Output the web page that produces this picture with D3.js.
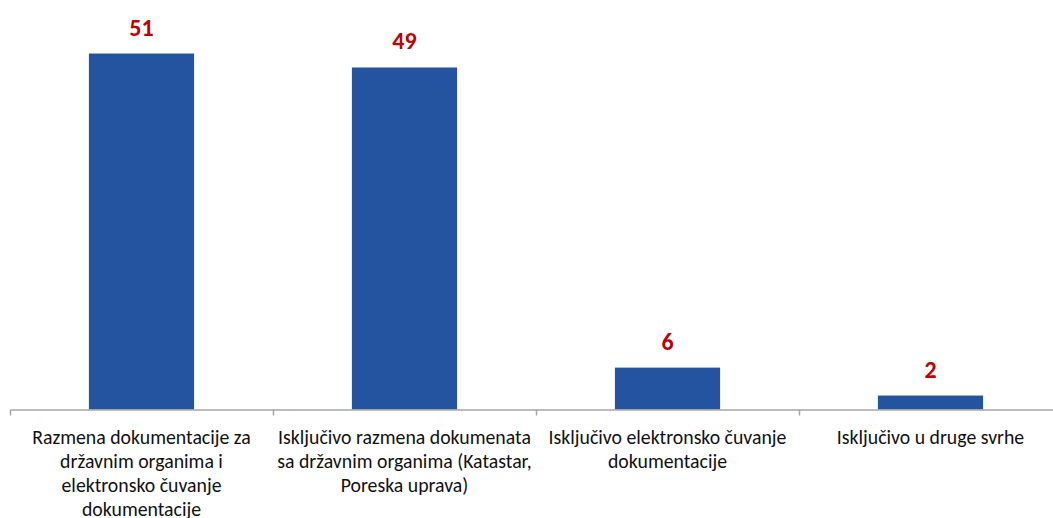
<!DOCTYPE html>
<html>
    <head>
        <script src="https://d3js.org/d3.v7.min.js"></script>
        <style>
            body { margin: 0; background: #fff; }
            .tickGrid line, .tickGrid .domain { stroke: #a6a6a6; stroke-width: 1.5; }
            .catLabel { font-family: Carlito, Calibri, Lato, sans-serif; font-size: 19.8px; fill: #111; }
            .valLabel { font-family: Carlito, Calibri, Lato, sans-serif; font-size: 24px; font-weight: bold; fill: #c00000; }
        </style>
    </head>
    <body>
        <svg id="chart" width="1053" height="518"></svg>
        <script>
            // categories (split into lines as in the picture) and values
            const categories = [
                ["Razmena dokumentacije za", "državnim organima i", "elektronsko čuvanje", "dokumentacije"],
                ["Isključivo razmena dokumenata", "sa državnim organima (Katastar,", "Poreska uprava)"],
                ["Isključivo elektronsko čuvanje", "dokumentacije"],
                ["Isključivo u druge svrhe"]
            ];
            const values = [51, 49, 6, 2];

            const svg = d3.select("#chart");
            const margins = { left: 10, right: -9, baseline: 409.5 };
            const plotRight = 1053 - margins.right;

            // Scales
            let xScale = d3.scaleBand()
                           .domain(d3.range(values.length))
                           .range([margins.left, plotRight])
                           .paddingInner(0.6)
                           .paddingOuter(0.3);

            let gridScale = d3.scaleLinear()
                              .domain([0, values.length])
                              .range([margins.left, plotRight]);

            let yScale = d3.scaleLinear()
                           .domain([0, 60])
                           .range([margins.baseline, margins.baseline - 60 * 6.98]);

            // Bars
            svg.append("g")
               .selectAll("rect")
               .data(values)
               .join("rect")
               .attr("x", (d, i) => xScale(i))
               .attr("width", xScale.bandwidth())
               .attr("y", d => yScale(d))
               .attr("height", d => yScale(0) - yScale(d))
               .attr("fill", "#2453a0");

            // Category axis with ticks between categories
            let bottomAxis = d3.axisBottom(gridScale)
                               .tickValues(d3.range(values.length + 1))
                               .tickSize(6)
                               .tickSizeOuter(0)
                               .tickFormat("");
            svg.append("g")
               .attr("class", "tickGrid")
               .attr("transform", `translate(0, ${margins.baseline})`)
               .call(bottomAxis);

            // Value labels
            svg.append("g")
               .selectAll("text")
               .data(values)
               .join("text")
               .attr("class", "valLabel")
               .attr("text-anchor", "middle")
               .attr("x", (d, i) => xScale(i) + xScale.bandwidth() / 2)
               .attr("y", d => yScale(d) - 18)
               .text(d => d);

            // Category labels
            let catGroup = svg.append("g");
            categories.forEach((lines, i) => {
                let t = catGroup.append("text")
                                .attr("class", "catLabel")
                                .attr("text-anchor", "middle");
                lines.forEach((line, j) => {
                    t.append("tspan")
                     .attr("x", xScale(i) + xScale.bandwidth() / 2)
                     .attr("y", margins.baseline + 34 + j * 24)
                     .text(line);
                });
            });
        </script>
    </body>
</html>
